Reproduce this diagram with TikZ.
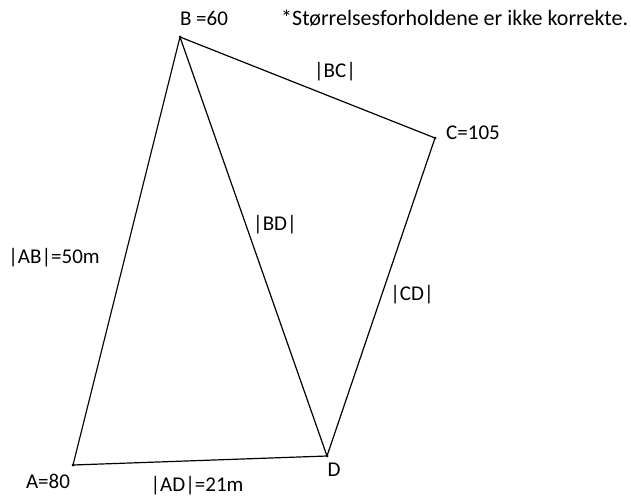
\documentclass[tikz,border=0pt]{standalone}
\usepackage{fontspec}
\setmainfont{Carlito}
\usepackage{tikz}
\usetikzlibrary{positioning}
\tikzset{
  % Vertex dot
  pt/.style={circle,fill=black,inner sep=0pt,minimum size=3pt},
  % Side
  side/.style={line width=1.2pt,black},
  % Labels
  lbl/.style={font=\fontsize{21}{25}\selectfont,inner sep=0pt}
}

\begin{document}
\begin{tikzpicture}[x=1pt,y=-1pt]
  \useasboundingbox (0,0) rectangle (631,497);
  \node[pt] (A) at (73,465) {};
  \node[pt] (B) at (180,37) {};
  \node[pt] (C) at (435,138) {};
  \node[pt] (D) at (327,456) {};

  \draw[side](A.center)--(B.center);
  \draw[side](B.center)--(C.center);
  \draw[side](C.center)--(D.center);
  \draw[side](D.center)--(A.center);
  \draw[side](B.center)--(D.center);

  \node[lbl] (lB)  at (204,18)  {B =60};
  \node[lbl] (lC)  at (473,133) {C=105};
  \node[lbl] (lA)  at (48,481)  {A=80};
  \node[lbl] (lD)  at (334,470) {D};
  \node[lbl] (ab)  at (54,258)  {|AB|=50m};
  \node[lbl] (bc)  at (335,72)  {|BC|};
  \node[lbl] (bd)  at (275,225) {|BD|};
  \node[lbl] (cd)  at (412,295) {|CD|};
  \node[lbl] (ad)  at (197,486) {|AD|=21m};
  \node[lbl,anchor=west,font=\fontsize{22}{26}\selectfont] (note) at (281,18) {*Størrelsesforholdene er ikke korrekte.};
\end{tikzpicture}
\end{document}
